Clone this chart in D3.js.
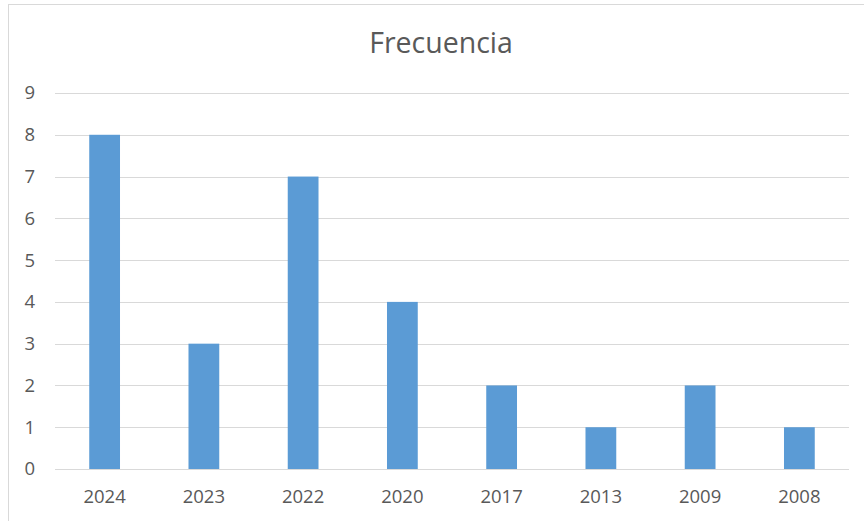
<!DOCTYPE html>
<html><head><meta charset="utf-8">
<script src="https://cdn.jsdelivr.net/npm/d3@7/dist/d3.min.js"></script>
<style>body{margin:0;background:#fff}svg{display:block}text{font-family:"Open Sans",sans-serif;fill:#595959}</style>
</head><body>
<script>
const categories = ["2024","2023","2022","2020","2017","2013","2009","2008"];
const values = [8,3,7,4,2,1,2,1];
const yTicks = [0,1,2,3,4,5,6,7,8,9];
const title = "Frecuencia";

(function(){
const W = 864, H = 521;
const svg = d3.select("body").append("svg").attr("width", W).attr("height", H);
svg.append("rect").attr("x",8.5).attr("y",4.5).attr("width",W+10).attr("height",H+10)
  .attr("fill","#fff").attr("stroke","#d9d9d9").attr("stroke-width",1);

const pl = 55, pr = 849, pt = 93, pb = 469;
const x = d3.scaleBand().domain(categories).range([pl,pr]).paddingInner(0.69).paddingOuter(0.345);
const y = d3.scaleLinear().domain([0,9]).range([pb, pt]);

svg.append("g").selectAll("line").data(yTicks).join("line")
  .attr("x1",pl).attr("x2",pr)
  .attr("y1",d=>Math.round(y(d))+0.5).attr("y2",d=>Math.round(y(d))+0.5)
  .attr("stroke","#d9d9d9").attr("stroke-width",1);

svg.append("g").selectAll("rect").data(categories).join("rect")
  .attr("x",d=>x(d)).attr("width",x.bandwidth())
  .attr("y",(d,i)=>y(values[i])).attr("height",(d,i)=>y(0)-y(values[i]))
  .attr("fill","#5B9BD5");

svg.append("g").selectAll("text").data(yTicks).join("text")
  .attr("x",35).attr("y",d=>y(d)).attr("dy","0.35em").attr("text-anchor","end")
  .attr("font-size",18.5).text(d=>d);

svg.append("g").selectAll("text").data(categories).join("text")
  .attr("x",d=>x(d)+x.bandwidth()/2).attr("y",503).attr("text-anchor","middle")
  .attr("font-size",18.5).text(d=>d);

svg.append("text").attr("x",441).attr("y",53).attr("text-anchor","middle")
  .attr("font-size",28.5).text(title);
})();
</script>
</body></html>
